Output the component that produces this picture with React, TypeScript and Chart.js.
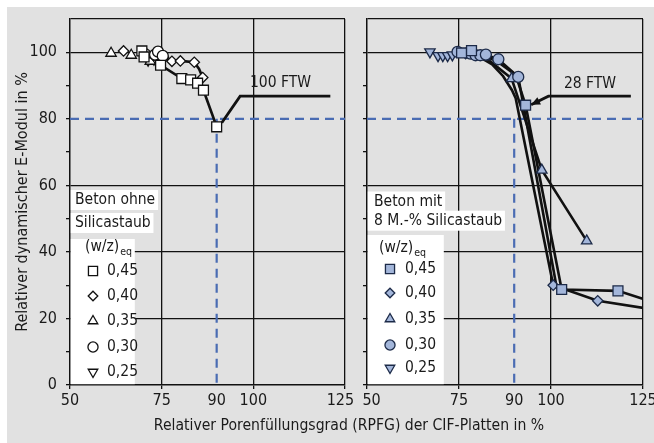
import React, { useEffect, useRef } from 'react';
import { Chart, registerables } from 'chart.js';
import { drawPoint } from 'chart.js/helpers';

Chart.register(...registerables);

const FONT = "'DejaVu Sans Condensed', 'Liberation Sans Narrow', 'Arial Narrow', sans-serif";
const TXT = '#1a1a1a';
const BLUE = '#4a6cb3';
const TICK_SIZE = 16;
const TITLE_SIZE = 16;
const LEG_SIZE = 15.5;

// ---------- axes ----------
const X_MIN = 50;
const X_MAX = 125;
const X_TICKS = [50, 75, 90, 100, 125];
const X_GRID = [75, 100, 125];
const X_NO_MARK = [90];
const Y_MIN = 0;
const Y_MAX = 110;
const Y_STEP = 10;
const Y_LABELS = [0, 20, 40, 60, 80, 100];
const Y_GRID = [20, 40, 60, 100, 110];
const REF_Y = 80;
const REF_X = 90;

const Y_TITLE = 'Relativer dynamischer E-Modul in %';
const X_TITLE = 'Relativer Porenfüllungsgrad (RPFG) der CIF-Platten in %';

const WZ_LABELS = ['0,45', '0,40', '0,35', '0,30', '0,25'];
const LEFT_TITLE = ['Beton ohne', 'Silicastaub'];
const RIGHT_TITLE = ['Beton mit', '8 M.-% Silicastaub'];

// ---------- left panel: Beton ohne Silicastaub ----------
const L_045 = [[69.6, 100.4], [70.2, 98.6], [74.7, 96.1], [80.5, 92.1], [82.9, 91.7], [84.8, 90.7], [86.4, 88.6], [90.0, 77.6]];
const L_045_PATH = [[70.2, 98.6], [74.7, 96.1], [80.5, 92.1], [82.9, 91.7], [84.8, 90.7], [86.4, 88.6], [90.0, 77.6]];
const L_040 = [[64.6, 100.4], [72.8, 99.0], [75.5, 98.5], [77.8, 97.3], [80.1, 97.4], [83.9, 97.0], [86.2, 92.4]];
const L_040_PATH = [[74.0, 99.2], [77.8, 97.3], [80.1, 97.4], [83.9, 97.0], [85.2, 95.0], [86.2, 92.4]];
const L_035 = [[61.2, 99.7], [66.7, 99.1], [70.8, 98.2], [71.9, 97.3]];
const L_030 = [[70.5, 99.4], [73.2, 99.3], [74.0, 100.2], [75.3, 98.9]];
const L_025 = [[71.3, 97.6], [72.9, 97.9]];
const L_NOTE = '100 FTW';
const L_PTR = [[121.0, 86.8], [96.4, 86.8], [91.4, 78.8]];

// ---------- right panel: Beton mit 8 M.-% Silicastaub ----------
const R_045 = [[75.7, 99.8], [78.4, 100.5], [93.1, 84.1], [102.9, 28.7], [118.2, 28.3]];
const R_045_PATH = [[78.4, 100.5], [85.2, 97.4], [90.4, 93.2], [93.1, 84.1], [102.9, 28.7], [118.2, 28.3], [128.0, 24.8]];
const R_040 = [[76.8, 99.6], [100.6, 30.0], [112.7, 25.3]];
const R_040_PATH = [[76.8, 99.6], [80.5, 98.6], [84.0, 96.4], [87.0, 92.8], [89.4, 88.6], [90.4, 86.2], [100.6, 30.0], [112.7, 25.3], [130.0, 22.3]];
const R_035 = [[82.0, 98.6], [89.3, 92.1], [97.5, 64.6], [109.7, 43.3]];
const R_035_PATH = [[80.0, 99.6], [82.0, 98.6], [89.3, 92.1], [97.5, 64.6], [109.7, 43.3]];
const R_030 = [[74.6, 100.1], [78.1, 99.6], [79.5, 99.1], [80.8, 99.1], [82.3, 99.3], [85.7, 97.9], [91.1, 92.6]];
const R_030_PATH = [[82.3, 99.3], [85.7, 97.9], [91.1, 92.6], [101.6, 29.0]];
const R_025 = [[67.1, 100.1], [69.3, 99.0], [70.6, 99.0], [71.9, 99.0], [73.2, 99.2]];
const R_NOTE = '28 FTW';
const R_PTR = [[121.7, 86.8], [99.3, 86.8], [94.6, 84.2]];

const pts = (a: number[][]) => a.map(([x, y]) => ({ x, y }));

type MarkerStyle = { pointStyle: string; radius: number; rotation: number };
const MARKERS: MarkerStyle[] = [
  { pointStyle: 'rect', radius: 7, rotation: 0 },
  { pointStyle: 'rectRot', radius: 5.2, rotation: 0 },
  { pointStyle: 'triangle', radius: 6, rotation: 0 },
  { pointStyle: 'circle', radius: 5.5, rotation: 0 },
  { pointStyle: 'triangle', radius: 6, rotation: 180 },
];

function markerSet(data: number[][], idx: number, fill: string, stroke: string) {
  const m = MARKERS[idx];
  return {
    data: pts(data),
    showLine: false,
    pointStyle: m.pointStyle,
    pointRadius: m.radius,
    pointRotation: m.rotation,
    pointBackgroundColor: fill,
    pointBorderColor: stroke,
    pointBorderWidth: 1.3,
  };
}

function pathSet(data: number[][], color = '#111', width = 2.6, dash: number[] = []) {
  return {
    data: pts(data),
    showLine: true,
    borderColor: color,
    borderWidth: width,
    borderDash: dash,
    pointRadius: 0,
    fill: false,
    tension: 0,
  };
}

type Deco = {
  titleLines: string[];
  titleY: number[];
  wzX: number;
  wzY: number;
  entryY: number[];
  markX: number;
  labelX: number;
  textX: number;
  boxW: number;
  boxTop: number;
  fill: string;
  stroke: string;
  note: string;
  noteAt: [number, number];
  ptr: number[][];
  arrow: boolean;
};

function decoPlugin(d: Deco) {
  return {
    id: 'deco',
    beforeDatasetsDraw(chart: any) {
      const { ctx, chartArea: a } = chart;
      ctx.save();
      ctx.fillStyle = '#fff';
      ctx.fillRect(a.left + 0.8, a.top + d.boxTop, d.boxW, a.bottom - a.top - d.boxTop - 0.8);
      ctx.font = `${LEG_SIZE}px ${FONT}`;
      ctx.textBaseline = 'middle';
      ctx.textAlign = 'left';
      d.titleLines.forEach((t, i) => {
        const w = ctx.measureText(t).width;
        ctx.fillStyle = '#fff';
        ctx.fillRect(a.left + 0.8, a.top + d.titleY[i] - 10, d.textX + w + 2, 20);
        ctx.fillStyle = TXT;
        ctx.fillText(t, a.left + d.textX, a.top + d.titleY[i]);
      });
      // (w/z)eq
      ctx.fillStyle = TXT;
      ctx.fillText('(w/z)', a.left + d.wzX, a.top + d.wzY);
      const ww = ctx.measureText('(w/z)').width;
      ctx.font = `10.5px ${FONT}`;
      ctx.fillText('eq', a.left + d.wzX + ww + 1, a.top + d.wzY + 5);
      ctx.font = `${LEG_SIZE}px ${FONT}`;
      WZ_LABELS.forEach((lab, i) => {
        const m = MARKERS[i];
        const y = a.top + d.entryY[i];
        ctx.fillStyle = d.fill;
        ctx.strokeStyle = d.stroke;
        ctx.lineWidth = 1.3;
        drawPoint(ctx, { pointStyle: m.pointStyle, radius: m.radius * 0.92, rotation: m.rotation, borderWidth: 1.3 } as any, a.left + d.markX, y);
        ctx.fillStyle = TXT;
        ctx.fillText(lab, a.left + d.labelX, y);
      });
      ctx.restore();
    },
    afterDatasetsDraw(chart: any) {
      const { ctx, scales } = chart;
      ctx.save();
      ctx.font = `${LEG_SIZE}px ${FONT}`;
      ctx.textBaseline = 'middle';
      ctx.textAlign = 'center';
      ctx.fillStyle = TXT;
      ctx.fillText(d.note, scales.x.getPixelForValue(d.noteAt[0]), scales.y.getPixelForValue(d.noteAt[1]));
      if (d.arrow) {
        const n = d.ptr.length;
        const x1 = scales.x.getPixelForValue(d.ptr[n - 2][0]);
        const y1 = scales.y.getPixelForValue(d.ptr[n - 2][1]);
        const x2 = scales.x.getPixelForValue(d.ptr[n - 1][0]);
        const y2 = scales.y.getPixelForValue(d.ptr[n - 1][1]);
        const ang = Math.atan2(y2 - y1, x2 - x1);
        const L = 9, W = 4;
        ctx.fillStyle = '#111';
        ctx.beginPath();
        ctx.moveTo(x2, y2);
        ctx.lineTo(x2 - L * Math.cos(ang) + W * Math.sin(ang), y2 - L * Math.sin(ang) - W * Math.cos(ang));
        ctx.lineTo(x2 - L * Math.cos(ang) - W * Math.sin(ang), y2 - L * Math.sin(ang) + W * Math.cos(ang));
        ctx.closePath();
        ctx.fill();
      }
      ctx.restore();
    },
  };
}

// side: 'left' panel nudges its last label leftwards, 'right' panel nudges its first label rightwards
function makeScales(showY: boolean, yWidth: number, side: 'left' | 'right') {
  return {
    x: {
      type: 'linear',
      min: X_MIN,
      max: X_MAX,
      afterBuildTicks: (s: any) => {
        s.ticks = X_TICKS.map((v) => ({ value: v }));
      },
      afterFit: (s: any) => {
        s.height = 32;
        s.paddingLeft = 0;
        s.paddingRight = 0;
      },
      ticks: {
        autoSkip: false,
        maxRotation: 0,
        padding: 2,
        color: TXT,
        font: { family: FONT, size: TICK_SIZE },
        callback: (v: any) => {
          const s = String(v);
          if (side === 'left' && v === X_MAX) return s + '  ';
          if (side === 'right' && v === X_MIN) return '  ' + s;
          return s;
        },
      },
      grid: {
        color: (c: any) => (X_GRID.includes(c.tick?.value) ? '#111' : 'rgba(0,0,0,0)'),
        tickColor: (c: any) => (X_NO_MARK.includes(c.tick?.value) ? 'rgba(0,0,0,0)' : '#111'),
        lineWidth: 1.3,
        tickLength: 4,
        tickWidth: 1.3,
      },
      border: { color: '#111', width: 1.5 },
    },
    y: {
      type: 'linear',
      min: Y_MIN,
      max: Y_MAX,
      afterFit: (s: any) => {
        s.width = yWidth;
        s.paddingTop = 0;
        s.paddingBottom = 0;
      },
      ticks: {
        stepSize: Y_STEP,
        padding: 9,
        color: TXT,
        font: { family: FONT, size: TICK_SIZE },
        callback: (v: any) => (showY && Y_LABELS.includes(v) ? String(v) : ''),
      },
      grid: {
        color: (c: any) => (Y_GRID.includes(c.tick?.value) ? '#111' : 'rgba(0,0,0,0)'),
        tickColor: (c: any) => (c.tick?.value === Y_MAX ? 'rgba(0,0,0,0)' : '#111'),
        lineWidth: 1.3,
        tickLength: 4,
        tickWidth: 1.3,
      },
      border: { color: '#111', width: 1.5 },
      title: {
        display: showY,
        text: Y_TITLE,
        color: TXT,
        font: { family: FONT, size: TITLE_SIZE },
        padding: { top: 6, bottom: 0 },
      },
    },
  };
}

function refLines() {
  return [
    pathSet([[X_MIN, REF_Y], [X_MAX, REF_Y]], BLUE, 2.2, [9, 6]),
    pathSet([[REF_X, REF_Y], [REF_X, Y_MIN]], BLUE, 2.2, [9, 6]),
  ];
}

function baseOptions(showY: boolean, yWidth: number, padRight: number, side: 'left' | 'right') {
  return {
    responsive: false,
    animation: false,
    events: [],
    layout: { padding: { left: 0, top: 12, right: padRight, bottom: 0 } },
    plugins: { legend: { display: false }, tooltip: { enabled: false }, title: { display: false } },
    scales: makeScales(showY, yWidth, side),
  };
}

export default function App() {
  const leftRef = useRef<HTMLCanvasElement>(null);
  const rightRef = useRef<HTMLCanvasElement>(null);

  useEffect(() => {
    const open = '#ffffff';
    const ostroke = '#111';
    const bfill = '#a3b6da';
    const bstroke = '#1c2a48';

    const left = new Chart(leftRef.current as HTMLCanvasElement, {
      type: 'scatter',
      data: {
        datasets: [
          markerSet(L_045, 0, open, ostroke),
          markerSet(L_030, 3, open, ostroke),
          markerSet(L_040, 1, open, ostroke),
          markerSet(L_035, 2, open, ostroke),
          markerSet(L_025, 4, open, ostroke),
          pathSet(L_045_PATH),
          pathSet(L_040_PATH),
          pathSet(L_PTR, '#111', 2.8),
          ...refLines(),
        ] as any,
      },
      options: baseOptions(true, 63, 12, 'left') as any,
      plugins: [
        decoPlugin({
          titleLines: LEFT_TITLE,
          titleY: [181, 204],
          wzX: 15,
          wzY: 228,
          entryY: [252, 277, 302, 328, 353],
          markX: 23,
          labelX: 37,
          textX: 5,
          boxW: 64,
          boxTop: 220,
          fill: open,
          stroke: ostroke,
          note: L_NOTE,
          noteAt: [107.4, 90.7],
          ptr: L_PTR,
          arrow: false,
        }) as any,
      ],
    });

    const right = new Chart(rightRef.current as HTMLCanvasElement, {
      type: 'scatter',
      data: {
        datasets: [
          markerSet(R_045, 0, bfill, bstroke),
          markerSet(R_030, 3, bfill, bstroke),
          markerSet(R_040, 1, bfill, bstroke),
          markerSet(R_035, 2, bfill, bstroke),
          markerSet(R_025, 4, bfill, bstroke),
          pathSet(R_045_PATH),
          pathSet(R_040_PATH),
          pathSet(R_035_PATH),
          pathSet(R_030_PATH),
          pathSet(R_PTR, '#111', 2.8),
          ...refLines(),
        ] as any,
      },
      options: baseOptions(false, 10, 11, 'right') as any,
      plugins: [
        decoPlugin({
          titleLines: RIGHT_TITLE,
          titleY: [182.5, 201.7],
          wzX: 12,
          wzY: 229,
          entryY: [250, 274, 300, 326, 349],
          markX: 23,
          labelX: 38,
          textX: 7,
          boxW: 76,
          boxTop: 216,
          fill: bfill,
          stroke: bstroke,
          note: R_NOTE,
          noteAt: [110.6, 90.4],
          ptr: R_PTR,
          arrow: true,
        }) as any,
      ],
    });

    return () => {
      left.destroy();
      right.destroy();
    };
  }, []);

  return (
    <div style={{ position: 'absolute', left: 0, top: 0, width: 654, height: 443, background: '#fff', overflow: 'hidden' }}>
      <div style={{ position: 'absolute', left: 7, top: 7, width: 647, height: 436, background: '#e1e1e1' }} />
      <canvas ref={leftRef} width={350} height={410} style={{ position: 'absolute', left: 7, top: 7, width: 350, height: 410 }} />
      <canvas ref={rightRef} width={297} height={410} style={{ position: 'absolute', left: 357, top: 7, width: 297, height: 410 }} />
      <div
        style={{
          position: 'absolute',
          left: 49,
          top: 414,
          width: 600,
          textAlign: 'center',
          fontFamily: FONT,
          fontSize: 15.6,
          lineHeight: '22px',
          color: TXT,
          whiteSpace: 'nowrap',
        }}
      >
        {X_TITLE}
      </div>
    </div>
  );
}
